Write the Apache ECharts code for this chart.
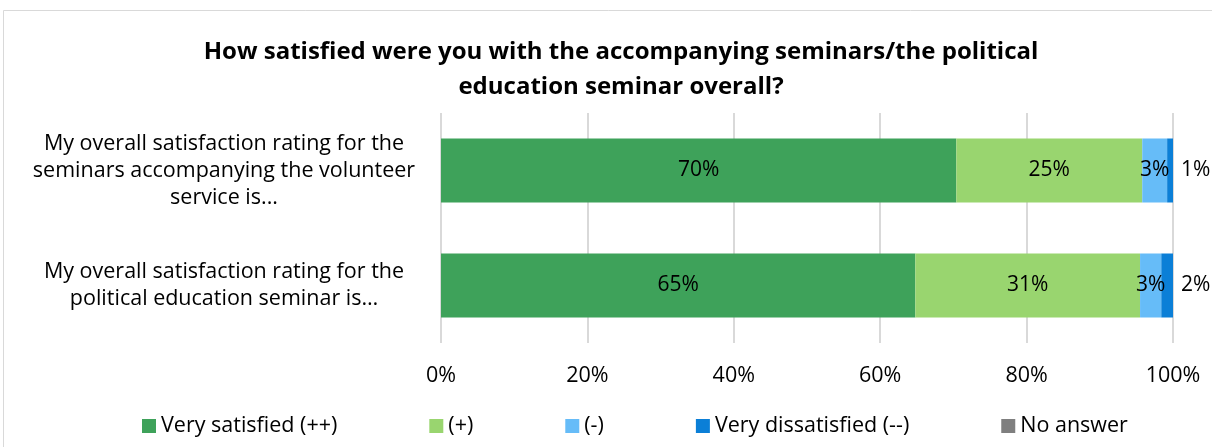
<!DOCTYPE html>
<html>
<head>
<meta charset="utf-8">
<script src="https://cdn.jsdelivr.net/npm/echarts@6/dist/echarts.min.js"></script>
<style>
  html, body { margin: 0; padding: 0; background: #fff; }
  #chart { width: 1212px; height: 447px; }
</style>
</head>
<body>
<div id="chart"></div>
<script>
// Survey answers, share of respondents in percent
const categories = [
  'My overall satisfaction rating for the\nseminars accompanying the volunteer\nservice is...',
  'My overall satisfaction rating for the\npolitical education seminar is…'
];
const seriesNames = ['Very satisfied (++)', '(+)', '(-)', 'Very dissatisfied (--)', 'No answer'];
const verySatisfied = [70.4, 64.8];
const satisfied = [25.4, 30.7];
const dissatisfied = [3.4, 2.9];
const veryDissatisfied = [0.8, 1.6];
const noAnswer = [0, 0];
const xTicks = [0, 20, 40, 60, 80, 100];

const colors = ['#3ea25a', '#99d56f', '#66bcf8', '#0b7fd7', '#7f7f7f'];
const FONT = 'Open Sans';
const TXT = 21.5;

const chart = echarts.init(document.getElementById('chart'), null, { renderer: 'canvas' });

function pct(p) { return Math.round(p.value) + '%'; }

function barSeries(name, data, idx, labelPos) {
  return {
    name: name,
    type: 'bar',
    stack: 'total',
    data: data,
    barWidth: 64,
    itemStyle: { color: colors[idx] },
    label: {
      show: idx < 4,
      position: labelPos || 'inside',
      distance: 8,
      formatter: pct,
      color: '#000',
      fontFamily: FONT,
      fontSize: 21
    },
    labelLayout: { hideOverlap: false }
  };
}

const option = {
  animation: false,
  backgroundColor: '#fff',
  textStyle: { fontFamily: FONT },
  graphic: [{
    type: 'rect',
    shape: { x: 3.5, y: 10.5, width: 1240, height: 460 },
    style: { fill: 'none', stroke: '#d9d9d9', lineWidth: 1 },
    silent: true,
    z: -1
  }],
  title: {
    text: 'How satisfied were you with the accompanying seminars/the political\neducation seminar overall?',
    left: 616,
    top: 30,
    textAlign: 'center',
    textStyle: {
      fontFamily: FONT,
      fontSize: 24,
      fontWeight: 'bold',
      color: '#000',
      lineHeight: 35
    }
  },
  legend: {
    left: 137,
    top: 410,
    icon: 'rect',
    itemWidth: 14,
    itemHeight: 14,
    itemGap: 92,
    textStyle: { fontFamily: FONT, fontSize: TXT, color: '#000' },
    data: seriesNames
  },
  grid: { left: 441, right: 39, top: 113, bottom: 104, containLabel: false },
  xAxis: {
    type: 'value',
    min: xTicks[0],
    max: xTicks[xTicks.length - 1],
    interval: xTicks[1] - xTicks[0],
    axisLine: { show: false },
    axisTick: { show: false },
    splitLine: { show: true, lineStyle: { color: '#d9d9d9', width: 2 } },
    axisLabel: {
      formatter: v => v + '%',
      fontFamily: FONT,
      fontSize: TXT,
      color: '#000',
      margin: 22
    }
  },
  yAxis: {
    type: 'category',
    inverse: true,
    data: categories,
    axisLine: { show: false },
    axisTick: { show: false },
    axisLabel: {
      align: 'center',
      margin: 217,
      fontFamily: FONT,
      fontSize: TXT,
      lineHeight: 27,
      color: '#000'
    }
  },
  series: [
    barSeries(seriesNames[0], verySatisfied, 0),
    barSeries(seriesNames[1], satisfied, 1),
    barSeries(seriesNames[2], dissatisfied, 2),
    barSeries(seriesNames[3], veryDissatisfied, 3, 'right'),
    barSeries(seriesNames[4], noAnswer, 4)
  ]
};

chart.setOption(option);
</script>
</body>
</html>
